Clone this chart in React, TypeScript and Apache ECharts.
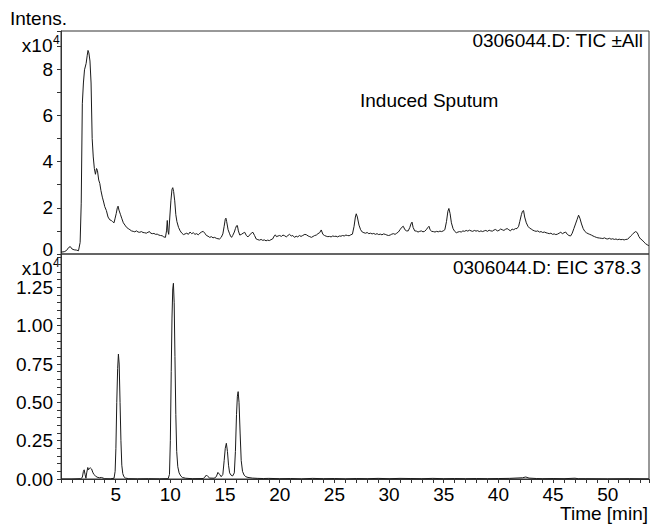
import React, { useEffect, useRef } from "react";
import * as echarts from "echarts";

// Total ion chromatogram (x1e4), [time min, intensity]
const ticPoints: number[][] = [
  [0.0, 0.08], [0.3, 0.1], [0.5, 0.15], [0.7, 0.28], [0.85, 0.32], [1.0, 0.22], [1.2, 0.18], [1.4, 0.17],
  [1.6, 0.14], [1.75, 0.5], [1.85, 2.2], [1.95, 6.5], [2.05, 7.4], [2.15, 7.97], [2.3, 8.25], [2.4, 8.6],
  [2.47, 8.81], [2.55, 8.7], [2.65, 8.35], [2.75, 7.4], [2.85, 5.0], [2.95, 4.2], [3.05, 3.7], [3.15, 3.45],
  [3.25, 3.7], [3.33, 3.62], [3.45, 3.2], [3.55, 3.05], [3.65, 2.75], [3.78, 2.46], [3.9, 2.25], [4.0, 2.05],
  [4.15, 1.88], [4.3, 1.6], [4.46, 1.48], [4.6, 1.45], [4.72, 1.4], [4.85, 1.35], [4.95, 1.55], [5.05, 1.75],
  [5.15, 2.0], [5.22, 2.07], [5.3, 1.9], [5.43, 1.72], [5.55, 1.55], [5.7, 1.35], [5.85, 1.25], [6.0, 1.15],
  [6.15, 1.1], [6.3, 1.05], [6.45, 1.0], [6.6, 0.98], [6.75, 0.96], [6.9, 1.0], [7.05, 0.95], [7.2, 0.94],
  [7.35, 0.97], [7.5, 0.93], [7.65, 0.92], [7.8, 0.9], [7.95, 0.94], [8.1, 0.97], [8.2, 0.9], [8.35, 0.88],
  [8.5, 0.89], [8.65, 0.85], [8.8, 0.86], [8.95, 0.82], [9.1, 0.8], [9.25, 0.79], [9.4, 0.74], [9.55, 0.72],
  [9.65, 1.0], [9.72, 1.45], [9.78, 1.0], [9.85, 0.85], [9.95, 1.6], [10.05, 2.3], [10.15, 2.8], [10.22, 2.87],
  [10.3, 2.7], [10.4, 2.3], [10.5, 1.7], [10.6, 1.4], [10.75, 1.15], [10.9, 1.0], [11.05, 0.9], [11.2, 0.84],
  [11.35, 0.87], [11.5, 0.9], [11.65, 0.85], [11.8, 0.95], [11.95, 0.88], [12.1, 0.92], [12.25, 0.85], [12.4, 0.88],
  [12.55, 0.83], [12.7, 0.9], [12.85, 0.95], [13.0, 0.98], [13.15, 0.9], [13.3, 0.8], [13.45, 0.77], [13.6, 0.72],
  [13.75, 0.75], [13.9, 0.7], [14.05, 0.72], [14.2, 0.68], [14.35, 0.66], [14.5, 0.65], [14.65, 0.72], [14.8, 0.87],
  [14.92, 1.2], [15.02, 1.5], [15.08, 1.55], [15.15, 1.4], [15.28, 1.05], [15.4, 0.9], [15.5, 0.78], [15.6, 0.72],
  [15.7, 0.8], [15.85, 0.95], [15.95, 1.1], [16.05, 1.22], [16.13, 1.23], [16.22, 1.0], [16.35, 0.82], [16.5, 0.85],
  [16.65, 0.9], [16.8, 0.94], [16.95, 0.8], [17.1, 0.74], [17.25, 0.82], [17.4, 0.9], [17.55, 0.94], [17.7, 0.8],
  [17.85, 0.65], [18.0, 0.62], [18.15, 0.6], [18.3, 0.63], [18.45, 0.59], [18.6, 0.61], [18.75, 0.57], [18.9, 0.6],
  [19.05, 0.58], [19.2, 0.62], [19.35, 0.65], [19.5, 0.78], [19.6, 0.83], [19.7, 0.75], [19.85, 0.78], [20.0, 0.8],
  [20.15, 0.76], [20.3, 0.82], [20.45, 0.79], [20.6, 0.74], [20.75, 0.8], [20.9, 0.85], [21.05, 0.78], [21.2, 0.8],
  [21.35, 0.72], [21.5, 0.77], [21.65, 0.74], [21.8, 0.8], [21.95, 0.76], [22.1, 0.8], [22.3, 0.85], [22.45, 0.83],
  [22.6, 0.78], [22.75, 0.75], [22.9, 0.72], [23.05, 0.76], [23.2, 0.8], [23.35, 0.82], [23.5, 0.88], [23.65, 0.92],
  [23.8, 1.04], [23.95, 0.85], [24.1, 0.8], [24.25, 0.77], [24.4, 0.75], [24.55, 0.76], [24.7, 0.74], [24.85, 0.78],
  [25.0, 0.76], [25.15, 0.77], [25.3, 0.74], [25.45, 0.78], [25.6, 0.77], [25.75, 0.8], [25.9, 0.78], [26.05, 0.82],
  [26.2, 0.8], [26.35, 0.79], [26.5, 0.83], [26.65, 0.86], [26.8, 1.2], [26.92, 1.6], [27.0, 1.74], [27.1, 1.6],
  [27.25, 1.25], [27.4, 1.05], [27.55, 0.95], [27.7, 0.92], [27.85, 0.9], [28.0, 0.93], [28.15, 0.88], [28.3, 0.9],
  [28.45, 0.87], [28.6, 0.89], [28.75, 0.85], [28.9, 0.88], [29.05, 0.84], [29.2, 0.86], [29.35, 0.83], [29.5, 0.87],
  [29.65, 0.85], [29.8, 0.82], [29.95, 0.8], [30.1, 0.82], [30.25, 0.86], [30.4, 0.88], [30.55, 0.85], [30.7, 0.9],
  [30.85, 0.95], [31.0, 1.05], [31.15, 1.15], [31.3, 1.2], [31.45, 1.05], [31.6, 1.0], [31.75, 1.0], [31.9, 1.15],
  [32.0, 1.3], [32.1, 1.38], [32.2, 1.15], [32.35, 1.0], [32.5, 0.99], [32.65, 0.95], [32.8, 0.98], [32.95, 1.0],
  [33.1, 0.96], [33.25, 0.98], [33.4, 1.05], [33.55, 1.15], [33.65, 1.2], [33.75, 1.05], [33.9, 0.98], [34.05, 0.97],
  [34.2, 0.95], [34.35, 0.98], [34.5, 0.96], [34.65, 0.99], [34.8, 0.97], [34.95, 1.0], [35.1, 1.05], [35.25, 1.4],
  [35.38, 1.85], [35.47, 1.97], [35.58, 1.75], [35.7, 1.35], [35.85, 1.1], [36.0, 0.98], [36.15, 0.92], [36.3, 0.95],
  [36.45, 0.97], [36.6, 0.95], [36.75, 1.0], [36.9, 0.98], [37.05, 1.02], [37.2, 0.99], [37.35, 1.03], [37.5, 1.0],
  [37.65, 0.98], [37.8, 1.02], [37.95, 0.99], [38.1, 1.01], [38.25, 0.97], [38.4, 1.0], [38.55, 0.97], [38.7, 1.0],
  [38.85, 1.02], [39.0, 0.98], [39.15, 1.03], [39.3, 1.0], [39.45, 0.99], [39.6, 1.04], [39.75, 1.06], [39.9, 1.0],
  [40.05, 1.02], [40.2, 1.08], [40.35, 1.05], [40.5, 1.02], [40.65, 1.07], [40.8, 1.1], [40.95, 1.05], [41.1, 1.0],
  [41.25, 1.08], [41.4, 1.05], [41.55, 1.1], [41.7, 1.1], [41.85, 1.2], [41.95, 1.4], [42.1, 1.7], [42.2, 1.85],
  [42.3, 1.88], [42.4, 1.6], [42.55, 1.35], [42.7, 1.2], [42.85, 1.12], [43.0, 1.08], [43.15, 1.03], [43.3, 1.0],
  [43.45, 0.98], [43.6, 1.0], [43.75, 0.95], [43.9, 0.97], [44.05, 0.93], [44.2, 0.95], [44.35, 0.92], [44.5, 0.9],
  [44.65, 0.88], [44.8, 0.9], [44.95, 0.85], [45.1, 0.87], [45.25, 0.84], [45.4, 0.86], [45.55, 0.9], [45.7, 0.94],
  [45.85, 0.88], [46.0, 0.92], [46.15, 0.95], [46.3, 0.85], [46.45, 0.8], [46.6, 0.78], [46.75, 0.9], [46.9, 1.1],
  [47.05, 1.3], [47.2, 1.5], [47.33, 1.68], [47.45, 1.55], [47.6, 1.3], [47.75, 1.1], [47.9, 0.98], [48.05, 0.92],
  [48.2, 0.88], [48.35, 0.85], [48.5, 0.82], [48.65, 0.78], [48.8, 0.75], [48.95, 0.72], [49.1, 0.7], [49.25, 0.69],
  [49.4, 0.68], [49.55, 0.67], [49.7, 0.7], [49.85, 0.66], [50.0, 0.65], [50.15, 0.68], [50.3, 0.64], [50.45, 0.66],
  [50.6, 0.63], [50.75, 0.65], [50.9, 0.62], [51.05, 0.64], [51.2, 0.62], [51.35, 0.63], [51.5, 0.61], [51.65, 0.63],
  [51.8, 0.64], [51.95, 0.7], [52.1, 0.78], [52.25, 0.85], [52.4, 0.92], [52.55, 0.97], [52.7, 0.92], [52.85, 0.75],
  [53.0, 0.65], [53.15, 0.6], [53.3, 0.52], [53.45, 0.45], [53.6, 0.4], [53.75, 0.36],
];

// Extracted ion chromatogram m/z 378.3 (x1e4), [time min, intensity]
const eicPoints: number[][] = [
  [0.0, 0.0], [1.0, 0.0], [1.8, 0.002], [1.95, 0.01], [2.05, 0.05], [2.12, 0.06], [2.2, 0.03], [2.28, 0.005],
  [2.35, 0.04], [2.45, 0.075], [2.52, 0.06], [2.6, 0.07], [2.7, 0.072], [2.8, 0.065], [2.9, 0.045], [3.0, 0.03],
  [3.15, 0.02], [3.3, 0.012], [3.5, 0.008], [3.7, 0.01], [3.85, 0.006], [4.0, 0.002], [4.5, 0.001], [4.85, 0.005],
  [4.95, 0.05], [5.02, 0.2], [5.1, 0.5], [5.18, 0.72], [5.25, 0.815], [5.32, 0.75], [5.4, 0.5], [5.48, 0.25],
  [5.56, 0.09], [5.65, 0.035], [5.75, 0.015], [5.9, 0.006], [6.2, 0.002], [7.0, 0.001], [8.0, 0.002], [9.0, 0.001],
  [9.8, 0.002], [9.92, 0.03], [10.0, 0.25], [10.08, 0.7], [10.15, 1.05], [10.22, 1.24], [10.28, 1.277], [10.35, 1.15],
  [10.42, 0.8], [10.5, 0.42], [10.58, 0.18], [10.68, 0.08], [10.8, 0.04], [10.95, 0.02], [11.1, 0.01], [11.4, 0.005],
  [12.0, 0.002], [13.0, 0.003], [13.15, 0.012], [13.3, 0.026], [13.45, 0.015], [13.6, 0.006], [14.0, 0.005], [14.2, 0.015],
  [14.35, 0.043], [14.5, 0.03], [14.65, 0.015], [14.8, 0.03], [14.92, 0.12], [15.02, 0.2], [15.12, 0.233], [15.22, 0.18],
  [15.32, 0.09], [15.42, 0.04], [15.55, 0.025], [15.7, 0.02], [15.85, 0.04], [15.95, 0.18], [16.05, 0.42], [16.13, 0.54],
  [16.2, 0.57], [16.28, 0.5], [16.38, 0.3], [16.48, 0.12], [16.6, 0.05], [16.75, 0.025], [16.9, 0.015], [17.1, 0.01],
  [17.5, 0.006], [18.0, 0.004], [18.5, 0.003], [19.0, 0.004], [20.0, 0.002], [21.0, 0.003], [22.0, 0.001], [23.0, 0.004],
  [24.0, 0.002], [25.0, 0.003], [26.0, 0.001], [27.0, 0.003], [28.0, 0.002], [29.0, 0.004], [30.0, 0.002], [31.0, 0.004],
  [32.0, 0.003], [33.0, 0.002], [34.0, 0.004], [35.0, 0.002], [36.0, 0.003], [37.0, 0.002], [38.0, 0.003], [39.0, 0.002],
  [40.0, 0.003], [41.0, 0.004], [42.2, 0.008], [42.5, 0.013], [42.8, 0.006], [43.5, 0.003], [44.0, 0.002], [45.0, 0.003],
  [46.0, 0.002], [47.0, 0.005], [47.3, 0.002], [48.0, 0.002], [50.0, 0.001], [52.0, 0.002], [53.75, 0.001],
];

const xLabels = [5, 10, 15, 20, 25, 30, 35, 40, 45, 50];
const ticLabels = [0, 2, 4, 6, 8];
const eicLabels = [0, 0.25, 0.5, 0.75, 1.0, 1.25];

const FONT = "'Liberation Sans', Arial, Helvetica, sans-serif";
const FS = 19;
const INK = "#000";
const FRAME = "#333";

export default function App() {
  const ref = useRef<HTMLDivElement>(null);
  useEffect(() => {
    document.body.style.margin = "0";
    if (!ref.current) return;
    const chart = echarts.init(ref.current, undefined, { renderer: "svg" });
    const gridL = 61, gridR = 2;
    const axisTick = { show: true, inside: false, length: 4, lineStyle: { color: FRAME, width: 1 } };
    chart.setOption({
      animation: false,
      backgroundColor: "#fff",
      textStyle: { fontFamily: FONT },
      grid: [
        { left: gridL, right: gridR, top: 31, height: 223, show: true, borderColor: FRAME, borderWidth: 1, backgroundColor: "transparent", outerBoundsMode: "none", containLabel: false },
        { left: gridL, right: gridR, top: 254, height: 225, show: true, borderColor: FRAME, borderWidth: 1, backgroundColor: "transparent", outerBoundsMode: "none", containLabel: false },
      ],
      xAxis: [
        { type: "value", gridIndex: 0, min: 0, max: 53.77, interval: 1, show: false },
        {
          type: "value", gridIndex: 1, min: 0, max: 53.77, interval: 1,
          axisLine: { show: true, lineStyle: { color: FRAME, width: 1 } },
          axisTick,
          splitLine: { show: false },
          axisLabel: {
            interval: 0, margin: 8, lineHeight: 14, color: INK, fontSize: FS, fontFamily: FONT,
            formatter: (v: number) => (xLabels.includes(Math.round(v * 1000) / 1000) ? String(v) : ""),
          },
        },
      ],
      yAxis: [
        {
          type: "value", gridIndex: 0, min: 0, max: 9.65, interval: 1,
          axisLine: { show: true, lineStyle: { color: FRAME, width: 1 } },
          axisTick,
          splitLine: { show: false },
          axisLabel: {
            margin: 8, color: INK, fontSize: FS, fontFamily: FONT, lineHeight: 10,
            verticalAlignMinLabel: "bottom",
            formatter: (v: number) => (ticLabels.includes(Math.round(v * 1000) / 1000) ? String(v) : ""),
          },
        },
        {
          type: "value", gridIndex: 1, min: 0, max: 1.468, interval: 0.05,
          axisLine: { show: true, lineStyle: { color: FRAME, width: 1 } },
          axisTick,
          splitLine: { show: false },
          axisLabel: {
            margin: 8, color: INK, fontSize: FS, fontFamily: FONT,
            formatter: (v: number) => {
              const r = Math.round(v * 1000) / 1000;
              return eicLabels.includes(r) ? r.toFixed(2) : "";
            },
          },
        },
      ],
      series: [
        {
          type: "line", xAxisIndex: 0, yAxisIndex: 0, data: ticPoints, showSymbol: false,
          lineStyle: { color: "#1a1a1a", width: 1 }, silent: true,
        },
        {
          type: "line", xAxisIndex: 1, yAxisIndex: 1, data: eicPoints, showSymbol: false,
          lineStyle: { color: "#1a1a1a", width: 1 }, silent: true,
        },
      ],
      graphic: [
        { type: "text", x: 10, y: 18, style: { text: "Intens.", fill: INK, font: `${FS}px ${FONT}`, textVerticalAlign: "middle" } },
        { type: "text", x: 52.5, y: 45, style: { text: "x10", fill: INK, font: `${FS}px ${FONT}`, textAlign: "right", textVerticalAlign: "middle" } },
        { type: "text", x: 53, y: 40, style: { text: "4", fill: INK, font: `12px ${FONT}`, textVerticalAlign: "middle" } },
        { type: "text", x: 52.5, y: 268, style: { text: "x10", fill: INK, font: `${FS}px ${FONT}`, textAlign: "right", textVerticalAlign: "middle" } },
        { type: "text", x: 53, y: 263, style: { text: "4", fill: INK, font: `12px ${FONT}`, textVerticalAlign: "middle" } },
        { type: "text", x: 643, y: 40, style: { text: "0306044.D: TIC ±All", fill: INK, font: `${FS}px ${FONT}`, textAlign: "right", textVerticalAlign: "middle" } },
        { type: "text", x: 641, y: 267, style: { text: "0306044.D: EIC 378.3", fill: INK, font: `${FS}px ${FONT}`, textAlign: "right", textVerticalAlign: "middle" } },
        { type: "text", x: 360, y: 100, style: { text: "Induced Sputum", fill: INK, font: `${FS}px ${FONT}`, textVerticalAlign: "middle" } },
        { type: "text", x: 648, y: 513, style: { text: "Time [min]", fill: INK, font: `${FS}px ${FONT}`, lineHeight: 14, textAlign: "right", textVerticalAlign: "middle" } },
      ],
    });
    return () => chart.dispose();
  }, []);
  return <div ref={ref} style={{ position: "absolute", left: 0, top: 0, width: 651, height: 524 }} />;
}
